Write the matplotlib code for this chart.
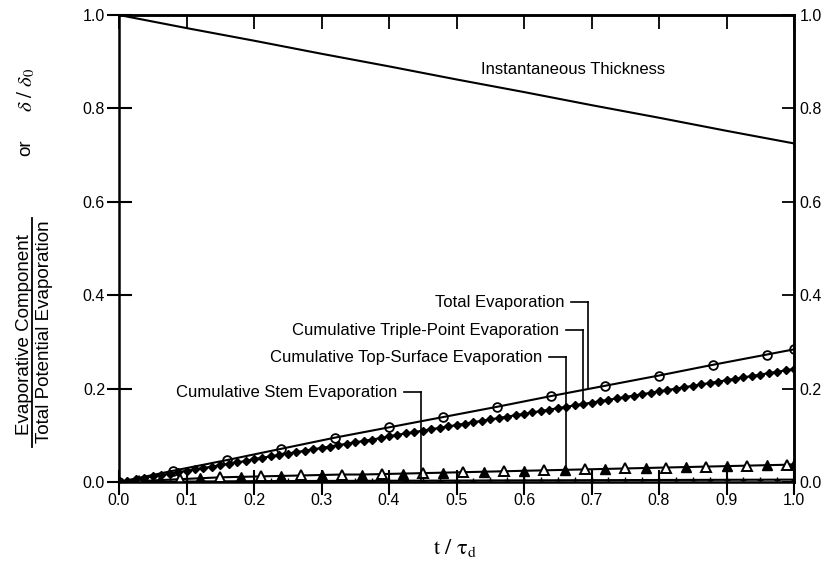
import matplotlib
matplotlib.use("Agg")
import matplotlib.pyplot as plt
from matplotlib.lines import Line2D

plt.rcParams['font.family'] = ['Liberation Sans', 'DejaVu Sans']
plt.rcParams['mathtext.fontset'] = 'stix'

# ---------------- data ----------------
thick_x = [0.0, 0.1, 0.2, 0.3, 0.4, 0.5, 0.6, 0.7, 0.8, 0.9, 1.0]
thick_y = [1.0, 0.972, 0.945, 0.917, 0.890, 0.862, 0.835, 0.807, 0.780, 0.752, 0.725]

total_x = [0.0, 0.08, 0.16, 0.24, 0.32, 0.40, 0.48, 0.56, 0.64, 0.72, 0.80, 0.88, 0.96, 1.0]
total_y = [0.0, 0.024, 0.047, 0.071, 0.095, 0.117, 0.139, 0.161, 0.184, 0.206, 0.228, 0.251, 0.273, 0.284]

triple_x = [0.0, 0.0125, 0.025, 0.0375, 0.05, 0.0625, 0.075, 0.0875, 0.1, 0.1125,
            0.125, 0.1375, 0.15, 0.1625, 0.175, 0.1875, 0.2, 0.2125, 0.225, 0.2375,
            0.25, 0.2625, 0.275, 0.2875, 0.3, 0.3125, 0.325, 0.3375, 0.35, 0.3625,
            0.375, 0.3875, 0.4, 0.4125, 0.425, 0.4375, 0.45, 0.4625, 0.475, 0.4875,
            0.5, 0.5125, 0.525, 0.5375, 0.55, 0.5625, 0.575, 0.5875, 0.6, 0.6125,
            0.625, 0.6375, 0.65, 0.6625, 0.675, 0.6875, 0.7, 0.7125, 0.725, 0.7375,
            0.75, 0.7625, 0.775, 0.7875, 0.8, 0.8125, 0.825, 0.8375, 0.85, 0.8625,
            0.875, 0.8875, 0.9, 0.9125, 0.925, 0.9375, 0.95, 0.9625, 0.975, 0.9875, 1.0]
triple_y = [0.000, 0.003, 0.006, 0.009, 0.012, 0.015, 0.018, 0.021, 0.024, 0.027,
            0.030, 0.033, 0.036, 0.039, 0.042, 0.045, 0.049, 0.052, 0.055, 0.058,
            0.061, 0.064, 0.067, 0.070, 0.073, 0.076, 0.079, 0.082, 0.085, 0.088,
            0.091, 0.094, 0.098, 0.101, 0.104, 0.107, 0.110, 0.113, 0.116, 0.119,
            0.122, 0.125, 0.128, 0.131, 0.134, 0.137, 0.140, 0.143, 0.146, 0.149,
            0.152, 0.155, 0.158, 0.161, 0.164, 0.167, 0.170, 0.173, 0.176, 0.179,
            0.182, 0.185, 0.188, 0.191, 0.194, 0.197, 0.200, 0.203, 0.206, 0.209,
            0.212, 0.215, 0.218, 0.221, 0.224, 0.227, 0.230, 0.233, 0.236, 0.239, 0.242]

top_x = [0.0, 0.03, 0.06, 0.09, 0.12, 0.15, 0.18, 0.21, 0.24, 0.27, 0.30, 0.33, 0.36,
         0.39, 0.42, 0.45, 0.48, 0.51, 0.54, 0.57, 0.60, 0.63, 0.66, 0.69, 0.72, 0.75,
         0.78, 0.81, 0.84, 0.87, 0.90, 0.93, 0.96, 0.99, 1.0]
top_y = [0.0, 0.002, 0.004, 0.006, 0.008, 0.010, 0.011, 0.012, 0.013, 0.014, 0.015, 0.016, 0.016,
         0.017, 0.018, 0.019, 0.020, 0.021, 0.022, 0.023, 0.024, 0.025, 0.026, 0.027, 0.028, 0.029,
         0.030, 0.031, 0.032, 0.033, 0.034, 0.035, 0.036, 0.037, 0.038]

stem_x = [0.0, 0.025, 0.05, 0.075, 0.1, 0.125, 0.15, 0.175, 0.2, 0.225, 0.25, 0.275,
          0.3, 0.325, 0.35, 0.375, 0.4, 0.425, 0.45, 0.475, 0.5, 0.525, 0.55, 0.575,
          0.6, 0.625, 0.65, 0.675, 0.7, 0.725, 0.75, 0.775, 0.8, 0.825, 0.85, 0.875,
          0.9, 0.925, 0.95, 0.975, 1.0]
stem_y = [0.0, 0.0003, 0.0005, 0.0008, 0.001, 0.0012, 0.0014, 0.0016, 0.0018, 0.002, 0.0021, 0.0022,
          0.0023, 0.0024, 0.0025, 0.0026, 0.0027, 0.0028, 0.0029, 0.003, 0.0031, 0.0032, 0.0033, 0.0034,
          0.0035, 0.0036, 0.0037, 0.0038, 0.0039, 0.004, 0.0041, 0.0042, 0.0043, 0.0044, 0.0045, 0.0046,
          0.0047, 0.0048, 0.0049, 0.005, 0.0051]

x_ticks = [0.0, 0.1, 0.2, 0.3, 0.4, 0.5, 0.6, 0.7, 0.8, 0.9, 1.0]
y_ticks = [0.0, 0.2, 0.4, 0.6, 0.8, 1.0]

# leader-line annotations
labels = ["Total Evaporation", "Cumulative Triple-Point Evaporation",
          "Cumulative Top-Surface Evaporation", "Cumulative Stem Evaporation"]
leader_x = [0.695, 0.687, 0.662, 0.447]
leader_text_y = [0.385, 0.325, 0.267, 0.192]
leader_end_y = [0.200, 0.167, 0.026, 0.003]

# ---------------- figure ----------------
W, H = 826, 573
fig = plt.figure(figsize=(W / 100, H / 100), dpi=100)
ax = fig.add_axes([119 / W, 1 - 482 / H, (794 - 119) / W, (482 - 15) / H])

lw = 1.5
ax.plot(thick_x, thick_y, color='black', lw=lw)
ax.plot(stem_x, stem_y, color='black', lw=lw, marker='+', ms=4, mew=1.0)
ax.plot(top_x, top_y, color='black', lw=lw)
ax.plot(top_x[0::2], top_y[0::2], ls='none', marker='^', ms=7, mfc='black', mec='black')
ax.plot(top_x[1::2], top_y[1::2], ls='none', marker='^', ms=7, mfc='white', mec='black', mew=1.4)
ax.plot(triple_x, triple_y, color='black', lw=lw, marker='D', ms=4.4, mfc='black', mec='black')
ax.plot(total_x, total_y, color='black', lw=lw, marker='o', ms=6.3, mfc='none', mec='black', mew=1.3)

ax.set_xlim(0, 1.0)
ax.set_ylim(0, 1.0)

for s in ax.spines.values():
    s.set_linewidth(1.8)

tick_fs = 11.5
ax.set_xticks(x_ticks)
ax.set_xticklabels([f"{v:.1f}" for v in x_ticks])
ax.set_yticks(y_ticks)
ax.set_yticklabels([f"{v:.1f}" for v in y_ticks])
ax.tick_params(axis='both', which='major', labelsize=tick_fs, width=1.5, length=18,
               direction='inout', top=False, right=False)
ax.tick_params(axis='x', pad=-1)
ax.tick_params(axis='y', pad=1)

# top and right inward ticks + right labels
tx = ax.secondary_xaxis('top')
tx.set_xticks(x_ticks)
tx.set_xticklabels([])
tx.tick_params(direction='in', length=10, width=1.3)
tx.spines['top'].set_linewidth(1.8)

ry = ax.secondary_yaxis('right')
ry.set_yticks(y_ticks)
ry.set_yticklabels([f"{v:.1f}" for v in y_ticks])
ry.tick_params(direction='in', length=9, width=1.3, labelsize=tick_fs, pad=4)
ry.spines['right'].set_linewidth(1.8)

# curve labels
ann_fs = 12
ax.text(0.672, 0.883, "Instantaneous Thickness", fontsize=ann_fs, ha='center', va='center')

for lab, lx, ty, ey in zip(labels, leader_x, leader_text_y, leader_end_y):
    ax.text(lx - 0.035, ty, lab, fontsize=ann_fs, ha='right', va='center')
    ax.plot([lx - 0.025, lx], [ty, ty], color='black', lw=1.2)
    ax.plot([lx, lx], [ty, ey], color='black', lw=1.2)

# axis labels
fig.text(455 / W, 1 - 548 / H, r'$\mathrm{t\ /\ \tau_d}$', fontsize=16,
         ha='center', va='center')

fig.text(24.5 / W, 1 - 335 / H, "Evaporative Component", rotation=90, fontsize=13.5,
         ha='center', va='center')
fig.text(45 / W, 1 - 332 / H, "Total Potential Evaporation", rotation=90, fontsize=13.5,
         ha='center', va='center')
fig.add_artist(Line2D([32 / W, 32 / W], [1 - 447 / H, 1 - 218 / H], color='black', lw=1.3,
                      transform=fig.transFigure))
fig.text(26 / W, 1 - 148 / H, "or", rotation=90, fontsize=13.5, ha='center', va='center')
fig.text(26 / W, 1 - 90 / H, r'$\delta\ /\ \delta_0$', rotation=90, fontsize=15,
         ha='center', va='center')

fig.savefig("out.png", dpi=100)
